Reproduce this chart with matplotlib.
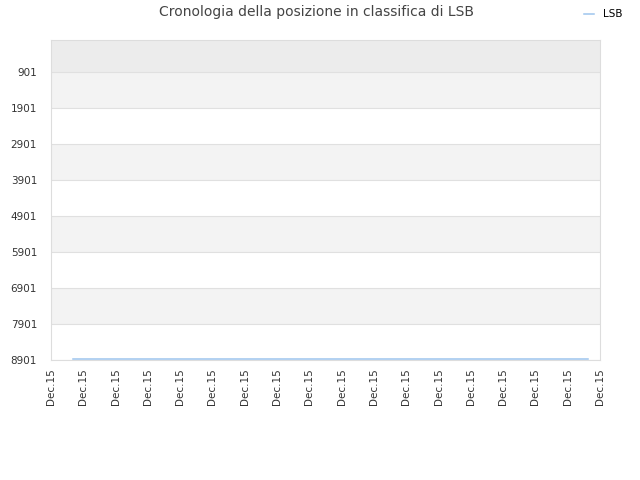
import matplotlib

matplotlib.use("Agg")
import matplotlib.pyplot as plt

# ranking history (rank per sample, all in Dec.15)
days = [0.68, 2.0, 4.0, 6.0, 8.0, 10.0, 12.0, 14.0, 16.63]
ranks = [8865, 8865, 8865, 8865, 8865, 8865, 8865, 8865, 8865]
y_ticks = [901, 1901, 2901, 3901, 4901, 5901, 6901, 7901, 8901]
x_ticks = list(range(18))
x_labels = ["Dec.15"] * len(x_ticks)

fig = plt.figure(figsize=(6.4, 4.8), dpi=100)
ax = fig.add_axes([0.0797, 0.25, 0.8578, 0.6667])

ax.set_ylim(8901, 1)
ax.set_xlim(0, 17)

# alternating bands
ax.axhspan(1, 901, color="#ececec", lw=0, zorder=0)
for lo, hi in zip(y_ticks[:-1:2], y_ticks[1::2]):
    ax.axhspan(lo, hi, color="#f3f3f3", lw=0, zorder=0)
for y in y_ticks:
    ax.axhline(y, color="#e0e0e0", lw=0.8, zorder=1)

ax.plot(days, ranks, color="#9ec5ee", lw=1.1, label="LSB", zorder=3)

ax.set_yticks(y_ticks)
ax.set_yticklabels([str(v) for v in y_ticks])
ax.set_xticks(x_ticks)
ax.set_xticklabels(x_labels, rotation=90)
ax.tick_params(length=0, labelsize=7.5, colors="#333333")
ax.tick_params(axis="y", pad=10)
ax.tick_params(axis="x", pad=6)
for s in ax.spines.values():
    s.set_color("#dddddd")

fig.suptitle("Cronologia della posizione in classifica di LSB", x=0.495, y=0.99,
             fontsize=10, color="#444444")
fig.legend(loc="upper right", bbox_to_anchor=(0.987, 1.0), frameon=False,
           fontsize=7.5, handlelength=1.0, handletextpad=0.8)

fig.savefig("out.png", dpi=100)
